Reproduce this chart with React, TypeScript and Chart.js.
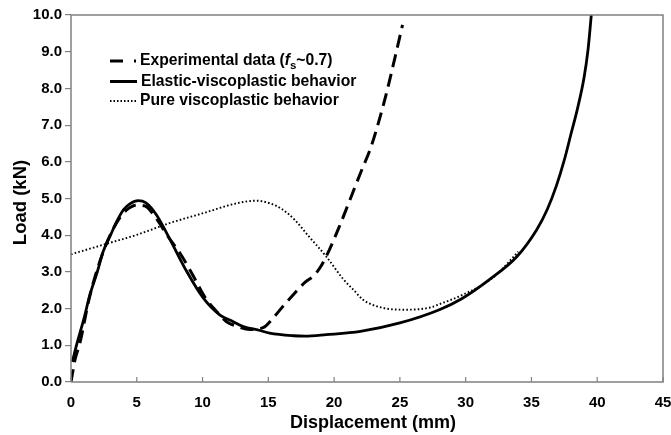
import React, { useEffect, useRef } from "react";
import { Chart, registerables } from "chart.js";

Chart.register(...registerables);

// ---- Data ----
const expX = [0, 0.3, 0.7, 1.4, 2.4, 3.4, 4.2, 5.0, 5.6, 6.4, 7.4, 8.3, 9.2, 10.2, 11.0, 11.8, 12.6, 13.6, 14.6, 15.5, 16.2, 17.0, 17.8, 18.4, 18.9, 19.4, 20.3, 21.2, 22.0, 22.8, 23.4, 24.0, 24.6, 25.2];
const expY = [0, 0.6, 1.1, 2.3, 3.5, 4.3, 4.68, 4.82, 4.8, 4.5, 3.95, 3.5, 2.95, 2.3, 1.95, 1.65, 1.52, 1.43, 1.48, 1.8, 2.1, 2.42, 2.72, 2.88, 3.1, 3.42, 4.15, 4.96, 5.69, 6.4, 7.1, 7.9, 8.8, 9.73];

const elasticX = [0.1, 0.43, 1.0, 1.44, 2.0, 2.45, 3.0, 3.47, 4.0, 4.5, 5.1, 5.7, 6.5, 7.5, 8.8, 10.05, 11.3, 12.3, 13.1, 14.3, 15.1, 16.9, 17.8, 19.4, 22.0, 25.0, 28.0, 29.7, 31.8, 33.9, 35.4, 36.2, 36.9, 37.5, 38.0, 38.5, 39.0, 39.3, 39.55];
const elasticY = [0.55, 1.02, 1.75, 2.38, 3.0, 3.56, 4.0, 4.37, 4.7, 4.86, 4.94, 4.88, 4.55, 3.9, 3.01, 2.29, 1.83, 1.65, 1.51, 1.41, 1.33, 1.26, 1.25, 1.29, 1.38, 1.61, 1.97, 2.27, 2.79, 3.42, 4.15, 4.7, 5.35, 6.05, 6.75, 7.45, 8.3, 9.05, 10.0];

const pureX = [0, 2.45, 5.0, 7.5, 10.05, 12.6, 14.1, 15.1, 16.0, 17.0, 18.0, 19.4, 20.7, 21.5, 22.2, 23.7, 25.5, 27.3, 28.0, 29.8, 32.1, 34.0];
const pureY = [3.48, 3.74, 4.01, 4.33, 4.6, 4.87, 4.94, 4.87, 4.72, 4.42, 4.0, 3.42, 2.8, 2.5, 2.24, 2.02, 1.97, 2.03, 2.12, 2.38, 2.85, 3.55];

const xTicks = [0, 5, 10, 15, 20, 25, 30, 35, 40, 45];
const yTicks = [0, 1, 2, 3, 4, 5, 6, 7, 8, 9, 10];

const seriesLabels = ["Experimental data (fs~0.7)", "Elastic-viscoplastic behavior", "Pure viscoplastic behavior"];
const xTitle = "Displacement (mm)";
const yTitle = "Load (kN)";

const FONT = '"Liberation Sans", Arial, Helvetica, sans-serif';
const AXIS_COLOR = "#808080";

const toPoints = (xs: number[], ys: number[]) => xs.map((x, i) => ({ x, y: ys[i] }));

const framePlugin = {
  id: "frameAndLegend",
  afterDraw(chart: any) {
    const { ctx, chartArea } = chart;
    const { left, right, top, bottom } = chartArea;
    const xs = chart.scales.x;
    ctx.save();
    // frame
    ctx.strokeStyle = AXIS_COLOR;
    ctx.lineWidth = 1.5;
    ctx.beginPath();
    ctx.moveTo(left, bottom);
    ctx.lineTo(left, top);
    ctx.lineTo(right, top);
    ctx.lineTo(right, bottom);
    ctx.lineTo(left, bottom);
    ctx.stroke();
    // inward x ticks
    ctx.lineWidth = 1.2;
    xTicks.forEach((v) => {
      const px = xs.getPixelForValue(v);
      ctx.beginPath();
      ctx.moveTo(px, bottom);
      ctx.lineTo(px, bottom - 5);
      ctx.stroke();
    });

    // axis titles
    ctx.fillStyle = "#000";
    ctx.textAlign = "center";
    ctx.textBaseline = "middle";
    ctx.font = `bold 18px ${FONT}`;
    ctx.fillText(xTitle, (left + right) / 2 + 6, 423);
    ctx.save();
    ctx.translate(21, (top + bottom) / 2 + 4);
    ctx.rotate(-Math.PI / 2);
    ctx.font = `bold 18.5px ${FONT}`;
    ctx.fillText(yTitle, 0, 0);
    ctx.restore();

    // legend
    const x0 = 110;
    const x1 = 137;
    const tx = 140;
    const rows = [61, 81.5, 101];
    ctx.strokeStyle = "#000";
    ctx.fillStyle = "#000";
    ctx.textBaseline = "middle";
    ctx.textAlign = "left";

    // row 1: dashed sample
    ctx.lineWidth = 3;
    ctx.setLineDash([]);
    ctx.beginPath();
    ctx.moveTo(x0, rows[0]);
    ctx.lineTo(x0 + 13, rows[0]);
    ctx.moveTo(x1 - 3, rows[0]);
    ctx.lineTo(x1 - 1, rows[0]);
    ctx.stroke();
    // row 2: solid sample
    ctx.beginPath();
    ctx.moveTo(x0, rows[1]);
    ctx.lineTo(x1, rows[1]);
    ctx.stroke();
    // row 3: dotted sample
    ctx.lineWidth = 2;
    ctx.setLineDash([1.5, 2]);
    ctx.beginPath();
    ctx.moveTo(x0, rows[2]);
    ctx.lineTo(x1, rows[2]);
    ctx.stroke();
    ctx.setLineDash([]);

    // text
    const size = 15.7;
    const bold = `bold ${size}px ${FONT}`;
    ctx.font = bold;
    let cx = tx;
    const p1 = "Experimental data (";
    ctx.fillText(p1, cx, rows[0]);
    cx += ctx.measureText(p1).width;
    ctx.font = `italic bold ${size}px ${FONT}`;
    ctx.fillText("f", cx, rows[0]);
    cx += ctx.measureText("f").width;
    ctx.font = `bold 11.5px ${FONT}`;
    ctx.fillText("s", cx, rows[0] + 5);
    cx += ctx.measureText("s").width;
    ctx.font = bold;
    ctx.fillText("~0.7)", cx, rows[0]);

    ctx.fillText(seriesLabels[1], tx + 1, rows[1]);
    ctx.fillText(seriesLabels[2], tx, rows[2]);
    ctx.restore();
  },
};

export default function App() {
  const ref = useRef<HTMLCanvasElement | null>(null);

  useEffect(() => {
    if (!ref.current) return;
    const chart = new Chart(ref.current, {
      type: "line",
      data: {
        datasets: [
          {
            label: seriesLabels[0],
            data: toPoints(expX, expY),
            borderColor: "#000",
            borderWidth: 3,
            borderDash: [13, 7],
            pointRadius: 0,
            cubicInterpolationMode: "monotone",
            fill: false,
          },
          {
            label: seriesLabels[1],
            data: toPoints(elasticX, elasticY),
            borderColor: "#000",
            borderWidth: 2.8,
            pointRadius: 0,
            cubicInterpolationMode: "monotone",
            fill: false,
          },
          {
            label: seriesLabels[2],
            data: toPoints(pureX, pureY),
            borderColor: "#000",
            borderWidth: 1.9,
            borderDash: [1.6, 2.2],
            pointRadius: 0,
            cubicInterpolationMode: "monotone",
            fill: false,
          },
        ],
      },
      options: {
        animation: false,
        responsive: false,
        devicePixelRatio: 1,
        layout: { padding: { left: 0, right: 8, top: 15, bottom: 0 } },
        plugins: {
          legend: { display: false },
          tooltip: { enabled: false },
        },
        scales: {
          x: {
            type: "linear",
            min: 0,
            max: 45,
            afterFit: (s: any) => {
              s.height = 53;
              s.paddingLeft = 0;
              s.paddingRight = 0;
            },
            afterBuildTicks: (s: any) => {
              s.ticks = xTicks.map((v) => ({ value: v }));
            },
            ticks: {
              color: "#000",
              font: { family: FONT, size: 15, weight: "bold" },
              padding: 12,
              maxRotation: 0,
              callback: (v: any) => String(v),
            },
            grid: { drawOnChartArea: false, drawTicks: false },
            border: { display: false },
            title: { display: false, text: xTitle },
          },
          y: {
            type: "linear",
            min: 0,
            max: 10,
            afterFit: (s: any) => {
              s.width = 71;
              s.paddingTop = 0;
              s.paddingBottom = 0;
            },
            afterBuildTicks: (s: any) => {
              s.ticks = yTicks.map((v) => ({ value: v }));
            },
            ticks: {
              color: "#000",
              font: { family: FONT, size: 15, weight: "bold" },
              padding: 3,
              callback: (v: any) => Number(v).toFixed(1),
            },
            grid: {
              drawOnChartArea: false,
              drawTicks: true,
              tickLength: 6,
              color: AXIS_COLOR,
              lineWidth: 1.2,
            },
            border: { display: false },
            title: { display: false, text: yTitle },
          },
        },
      },
      plugins: [framePlugin],
    } as any);
    return () => chart.destroy();
  }, []);

  return (
    <canvas
      ref={ref}
      width={671}
      height={435}
      style={{ position: "absolute", left: 0, top: 0, width: 671, height: 435 }}
    />
  );
}
